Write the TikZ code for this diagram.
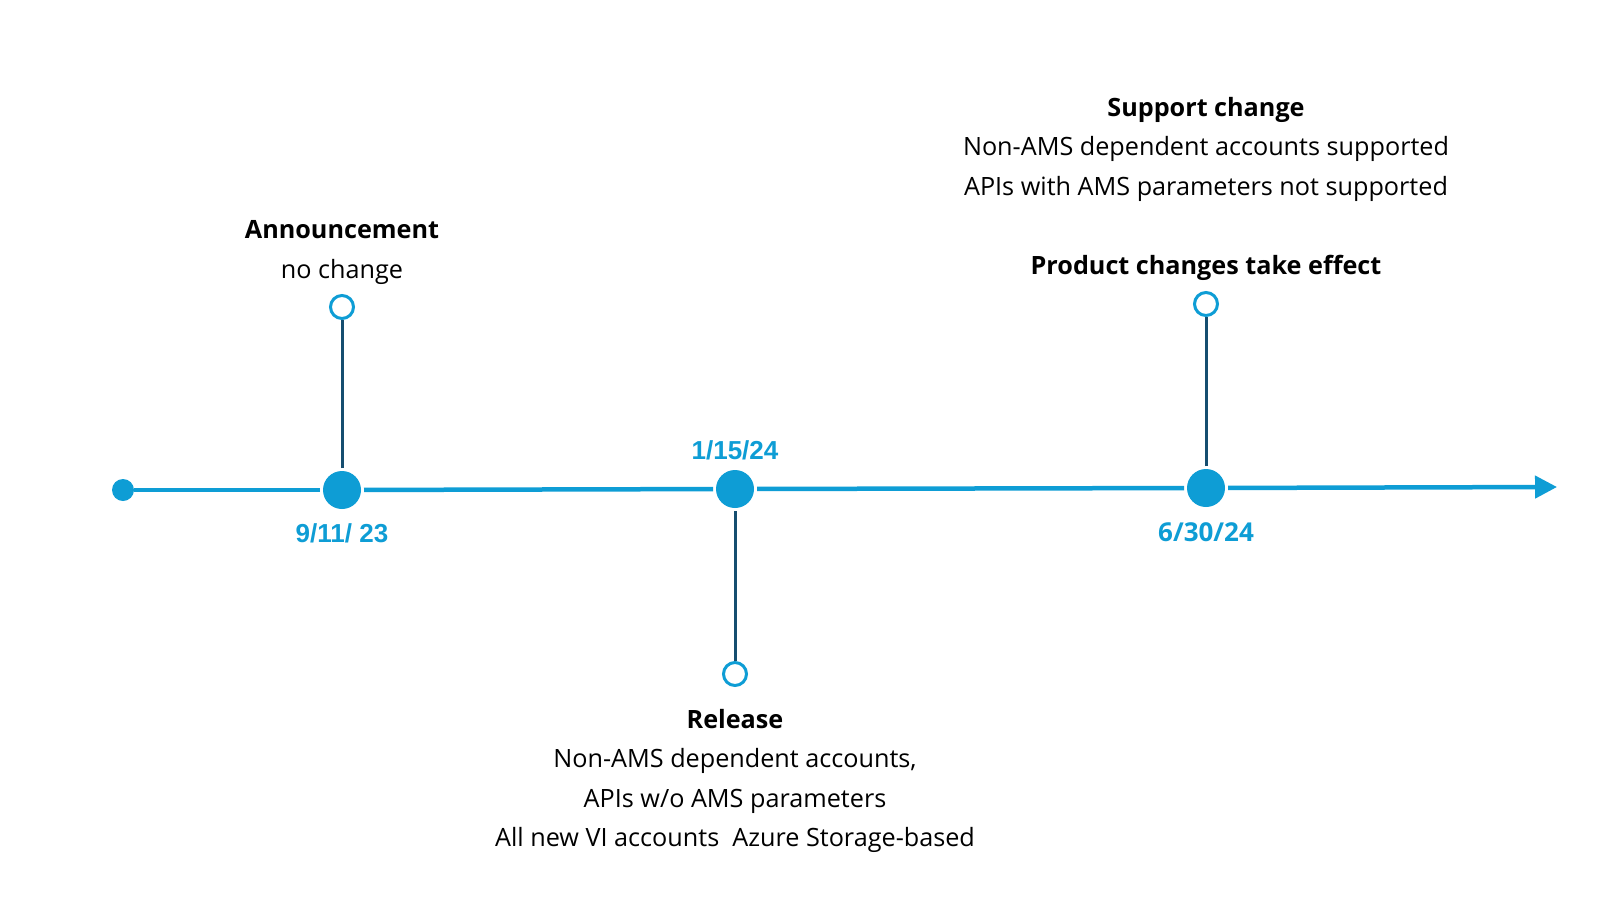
\documentclass[tikz,border=0pt]{standalone}
\usepackage{xcolor}
\usepackage{fontspec}
\setmainfont{Open Sans}
\newfontfamily\arialfont{Liberation Sans}
\usepackage{tikz}
\usetikzlibrary{arrows.meta, positioning}
\definecolor{timelineblue}{RGB}{14, 157, 213}
\definecolor{stemblue}{RGB}{22, 78, 112}

\tikzset{
    axisline/.style={timelineblue, line width=2.25pt},
    milestone/.style={circle, fill=timelineblue, minimum size=19pt, inner sep=0pt, outer sep=1.5pt},
    startdot/.style={circle, fill=timelineblue, minimum size=11pt, inner sep=0pt},
    pin/.style={circle, draw=timelineblue, fill=white, line width=1.5pt, minimum size=11.5pt, inner sep=0pt},
    stem/.style={stemblue, line width=1.5pt},
    eventtext/.style={align=center, inner sep=0pt, font=\fontsize{12.6}{19.7}\selectfont},
    datelabel/.style={inner sep=0pt, text=timelineblue, font=\fontsize{13}{15}\selectfont\bfseries}
}

\begin{document}
\begin{tikzpicture}[x=0.5pt, y=-0.5pt]
        % Page area
        \fill[white] (0,0) rectangle (1600,900);
        \useasboundingbox (0,0) rectangle (1600,900);

        % Points on the timeline
        \node[startdot] (start) at (123,490) {};
        \node[milestone] (ann) at (342,490) {};
        \node[milestone] (rel) at (735,489) {};
        \node[milestone] (eff) at (1206,488) {};
        \coordinate (tip) at (1557,487);

        % Timeline
        \draw[axisline] (start) -- (ann);
        \draw[axisline] (ann) -- (rel);
        \draw[axisline] (rel) -- (eff);
        \draw[axisline, -{Triangle[length=11pt, width=11pt]}] (eff) -- (tip);

        % Pins
        \node[pin] (annpin) at (342,307) {};
        \node[pin] (relpin) at (735,674) {};
        \node[pin] (effpin) at (1206,304) {};
        \draw[stem] (ann) -- (annpin);
        \draw[stem] (rel) -- (relpin);
        \draw[stem] (eff) -- (effpin);

        % Dates
        \node[datelabel, font=\fontsize{13}{15}\selectfont\arialfont\bfseries, below=5.5pt of ann] (anndate) {9/11/ 23};
        \node[datelabel, font=\fontsize{13}{15}\selectfont\arialfont\bfseries, above=3.5pt of rel] (reldate) {1/15/24};
        \node[datelabel, below=6pt of eff] (effdate) {6/30/24};

        % Event texts
        \node[eventtext, font=\fontsize{12.6}{20}\selectfont, above=4.5pt of annpin] (anntext) {\textbf{Announcement}\\no change};
        \node[eventtext, below=11pt of relpin] (reltext) {\textbf{Release}\\Non-AMS dependent accounts,\\APIs w/o AMS parameters\\All new VI accounts\ \ Azure Storage-based};
        \node[eventtext, above=5pt of effpin] (efftext) {\textbf{Product changes take effect}};
        \node[eventtext, font=\fontsize{12.6}{19.8}\selectfont, above=26.5pt of efftext] (supporttext) {\textbf{Support change}\\Non-AMS dependent accounts supported\\APIs with AMS parameters not supported};
    \end{tikzpicture}
\end{document}
